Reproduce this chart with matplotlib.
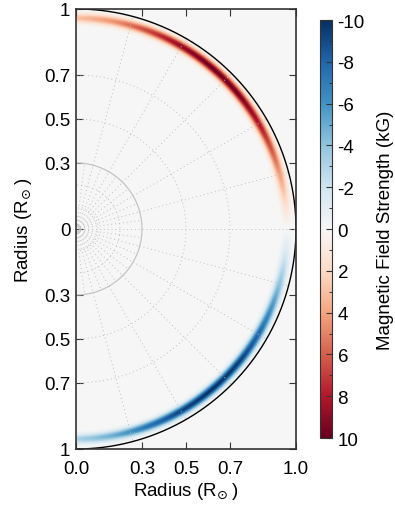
import numpy as np
import matplotlib
matplotlib.use("Agg")
import matplotlib.pyplot as plt

plt.rcParams['font.family'] = ['Liberation Sans', 'DejaVu Sans']
plt.rcParams['mathtext.fontset'] = 'dejavusans'
plt.rcParams['axes.unicode_minus'] = False

# latitude profile of the toroidal field band (kG)
lat_deg = [0, 5, 10, 20, 30, 40, 50, 60, 70, 80, 90]
north_kG = [0.0, 1.2, 2.8, 5.8, 8.3, 9.8, 10.0, 9.0, 6.8, 4.5, 3.0]
south_kG = [0.0, -1.2, -2.6, -5.5, -8.0, -9.6, -10.0, -9.4, -7.5, -5.0, -3.2]
band_radius = 0.955
band_width = 0.015

xticks = [0.0, 0.3, 0.5, 0.7, 1.0]
xticklabels = ['0.0', '0.3', '0.5', '0.7', '1.0']
yticks = [1, 0.7, 0.5, 0.3, 0, -0.3, -0.5, -0.7, -1]
yticklabels = ['1', '0.7', '0.5', '0.3', '0', '0.3', '0.5', '0.7', '1']
cbar_ticks = [-10, -8, -6, -4, -2, 0, 2, 4, 6, 8, 10]

# build the field image on a cartesian grid
nx, ny = 500, 1000
xs = np.linspace(0, 1, nx)
ys = np.linspace(-1, 1, ny)
X, Y = np.meshgrid(xs, ys)
R = np.hypot(X, Y)
LAT = np.degrees(np.arctan2(Y, X))
amp = np.where(LAT >= 0,
               np.interp(np.abs(LAT), lat_deg, north_kG),
               np.interp(np.abs(LAT), lat_deg, south_kG))
field = amp * np.exp(-0.5 * ((R - band_radius) / band_width) ** 2)
field[R > 1] = 0

fig = plt.figure(figsize=(3.95, 5.06), dpi=100)
ax = fig.add_axes([0.1924, 0.1107, 0.557, 0.8696])
cmap = plt.get_cmap('RdBu_r')
ax.set_facecolor(cmap(0.5))
im = ax.imshow(field, extent=[0, 1, -1, 1], origin='lower', cmap=cmap,
               vmin=-10, vmax=10, interpolation='bilinear', aspect='equal')

# grid of the domain
t = np.linspace(-np.pi / 2, np.pi / 2, 400)
gcol = '#bcbcbc'
dots = (0, (1, 3))
for rr in [0.1, 0.2, 0.5, 0.7]:
    ax.plot(rr * np.cos(t), rr * np.sin(t), ls=dots, color=gcol, lw=0.7)
for a in np.arange(-75, 90, 15):
    ang = np.radians(a)
    ax.plot([0.3 * np.cos(ang), np.cos(ang)], [0.3 * np.sin(ang), np.sin(ang)],
            ls=dots, color=gcol, lw=0.7)
for a in np.arange(-82.5, 90, 7.5):
    ang = np.radians(a)
    ax.plot([0.02 * np.cos(ang), 0.3 * np.cos(ang)], [0.02 * np.sin(ang), 0.3 * np.sin(ang)],
            ls=dots, color=gcol, lw=0.7)
ax.plot(0.3 * np.cos(t), 0.3 * np.sin(t), color='#c4c4c4', lw=0.9)
ax.plot(0.015 * np.cos(t), 0.015 * np.sin(t), color='#bdbdbd', lw=0.8)
ax.plot(np.cos(t), np.sin(t), color='black', lw=1.0)

ax.set_xlim(0, 1)
ax.set_ylim(-1, 1)
ax.set_xticks(xticks)
ax.set_xticklabels(xticklabels)
ax.set_yticks(yticks)
ax.set_yticklabels(yticklabels)
ax.tick_params(direction='in', length=5, width=0.8, top=True, right=True,
               labelsize=13.5, colors='#333333', labelcolor='black')
ax.tick_params(axis='x', pad=8)
ax.tick_params(axis='y', pad=4)
for s in ax.spines.values():
    s.set_color('#333333')
    s.set_linewidth(1.2)
ax.set_xlabel(r'Radius (R$_{\!\odot}$)', fontsize=13.5, labelpad=2)
ax.set_ylabel(r'Radius (R$_{\!\odot}$)', fontsize=13.5, labelpad=7)

cax = fig.add_axes([0.810, 0.1324, 0.0304, 0.826])
cb = fig.colorbar(im, cax=cax, ticks=cbar_ticks)
cb.ax.invert_yaxis()
cb.ax.set_yticks(np.arange(-9, 10, 2), minor=True)
cb.ax.tick_params(direction='in', length=4, width=0.8, labelsize=13.5, colors='#333333',
                  labelcolor='black', pad=4)
cb.ax.tick_params(which='minor', direction='in', length=2.5, width=0.7, colors='#333333')
cb.outline.set_edgecolor('#333333')
cb.set_label('Magnetic Field Strength (kG)', fontsize=13.5, labelpad=9)

plt.savefig('out.png', dpi=100)
